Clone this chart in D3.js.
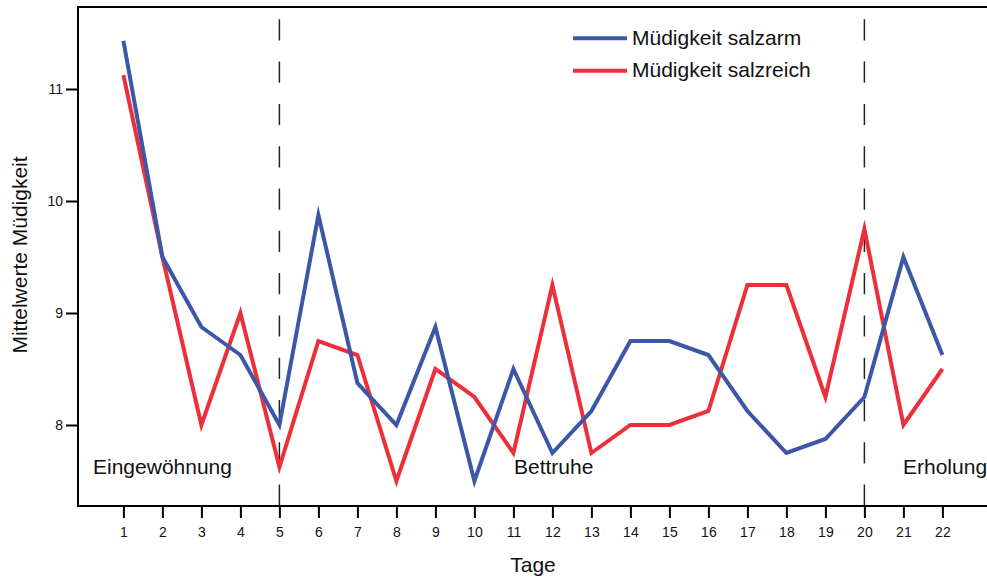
<!DOCTYPE html>
<html>
<head>
<meta charset="utf-8">
<script src="https://cdn.jsdelivr.net/npm/d3@7"></script>
<style>
  html, body { margin: 0; padding: 0; background: #fff; }
  svg { display: block; font-family: "Liberation Sans", Arial, sans-serif; }
</style>
</head>
<body>
<svg id="chart" width="987" height="578"></svg>
<script>
// Tage der Studie
const days = [1, 2, 3, 4, 5, 6, 7, 8, 9, 10, 11, 12, 13, 14, 15, 16, 17, 18, 19, 20, 21, 22];
// Mittelwerte Müdigkeit je Tag
const salzarm   = [11.43, 9.5, 8.875, 8.625, 8.0, 9.875, 8.375, 8.0, 8.875, 7.5, 8.5, 7.75, 8.125, 8.75, 8.75, 8.625, 8.125, 7.75, 7.875, 8.25, 9.5, 8.625];
const salzreich = [11.125, 9.5, 8.0, 9.0, 7.625, 8.75, 8.625, 7.5, 8.5, 8.25, 7.75, 9.25, 7.75, 8.0, 8.0, 8.125, 9.25, 9.25, 8.25, 9.75, 8.0, 8.5];
const yTicks = [8, 9, 10, 11];
// Phasengrenzen und Phasennamen
const phaseBreaks = [5, 20];
const phaseNames = ["Eingewöhnung", "Bettruhe", "Erholung"];
const seriesNames = ["Müdigkeit salzarm", "Müdigkeit salzreich"];
const seriesColors = ["#3d57a7", "#ee2f3b"];

const svg = d3.select("#chart");
const frameLeft = 78, frameTop = 7, frameBottom = 506, frameRight = 995;

const x = d3.scaleLinear().domain([1, 22]).range([123.4, 942.4]);
const y = d3.scaleLinear().domain([8, 11]).range([425, 89]);

// Rahmen (oben, links, unten)
svg.append("path")
  .attr("d", `M${frameRight},${frameTop}H${frameLeft}V${frameBottom}H${frameRight}`)
  .attr("fill", "none")
  .attr("stroke", "#000")
  .attr("stroke-width", 2);

// x-Achse
const xAxis = svg.append("g")
  .attr("transform", `translate(0,${frameBottom})`)
  .call(d3.axisBottom(x).tickValues(days).tickSize(12).tickPadding(9).tickFormat(d3.format("d")));
xAxis.select(".domain").remove();
xAxis.selectAll(".tick line").attr("stroke-width", 2);
xAxis.selectAll("text").attr("font-size", 14).attr("fill", "#111").attr("font-family", "Liberation Sans, Arial, sans-serif");

// y-Achse
const yAxis = svg.append("g")
  .attr("transform", `translate(${frameLeft},0)`)
  .call(d3.axisLeft(y).tickValues(yTicks).tickSize(12).tickPadding(3).tickFormat(d3.format("d")));
yAxis.select(".domain").remove();
yAxis.selectAll(".tick line").attr("stroke-width", 2);
yAxis.selectAll("text").attr("font-size", 14).attr("fill", "#111").attr("font-family", "Liberation Sans, Arial, sans-serif");

// Achsentitel
svg.append("text")
  .attr("x", 533).attr("y", 572)
  .attr("text-anchor", "middle")
  .attr("font-size", 21).attr("fill", "#111")
  .text("Tage");
svg.append("text")
  .attr("transform", "translate(27,255) rotate(-90)")
  .attr("text-anchor", "middle")
  .attr("font-size", 21).attr("fill", "#111")
  .text("Mittelwerte Müdigkeit");

// gestrichelte Phasengrenzen
svg.selectAll("line.phase")
  .data(phaseBreaks)
  .join("line")
  .attr("class", "phase")
  .attr("x1", d => x(d)).attr("x2", d => x(d))
  .attr("y1", 19.3).attr("y2", frameBottom)
  .attr("stroke", "#222")
  .attr("stroke-width", 1.5)
  .attr("stroke-dasharray", "21.2 21.1");

// Phasennamen
const phaseX = [93, 514, 903];
svg.selectAll("text.phase")
  .data(phaseNames)
  .join("text")
  .attr("class", "phase")
  .attr("x", (d, i) => phaseX[i])
  .attr("y", 474)
  .attr("font-size", 21).attr("fill", "#111")
  .text(d => d);

// Linien (salzreich zuerst, salzarm darüber)
const line = d3.line()
  .x((d, i) => x(days[i]))
  .y(d => y(d));

[[salzreich, 1], [salzarm, 0]].forEach(([vals, idx]) => {
  svg.append("path")
    .datum(vals)
    .attr("d", line)
    .attr("fill", "none")
    .attr("stroke", seriesColors[idx])
    .attr("stroke-width", 4)
    .attr("stroke-linejoin", "miter")
    .attr("stroke-miterlimit", 10);
});

// Legende
const legend = svg.append("g");
seriesNames.forEach((name, i) => {
  const ly = 38.3 + i * 32.4;
  legend.append("line")
    .attr("x1", 573).attr("x2", 627)
    .attr("y1", ly).attr("y2", ly)
    .attr("stroke", seriesColors[i])
    .attr("stroke-width", 4);
  legend.append("text")
    .attr("x", 632).attr("y", ly + 6.7)
    .attr("font-size", 21).attr("fill", "#111")
    .text(name);
});
</script>
</body>
</html>
